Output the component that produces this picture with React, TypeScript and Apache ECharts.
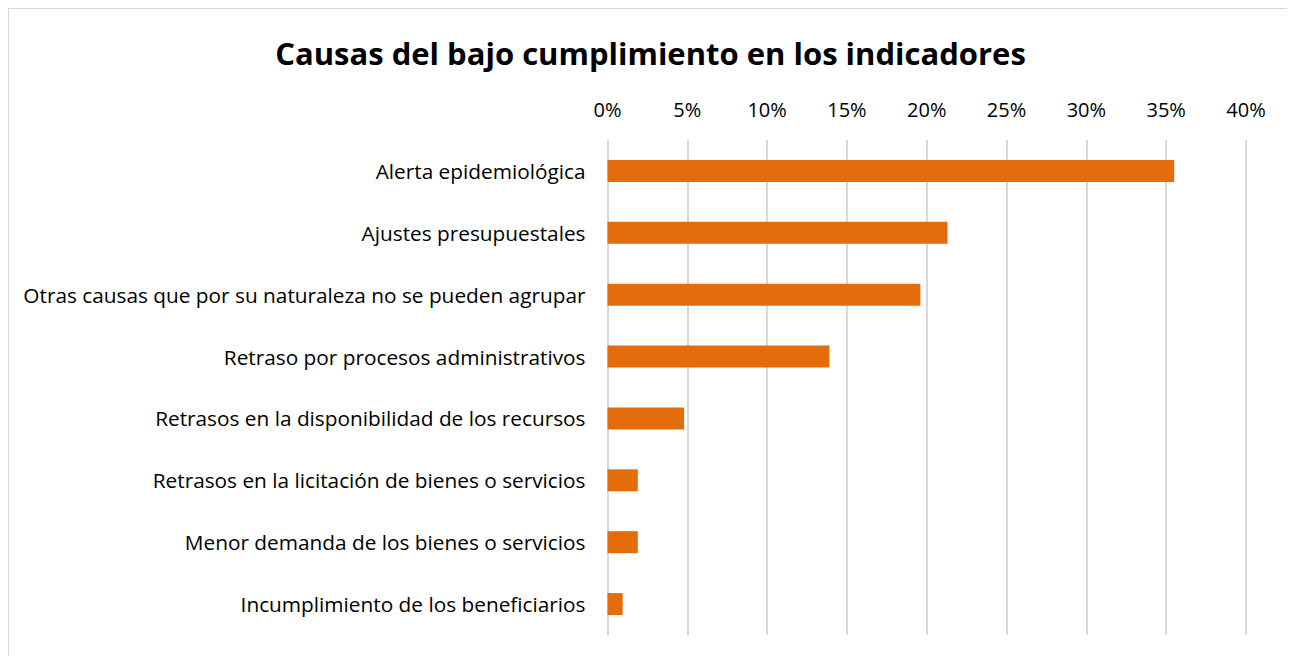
import React, { useEffect, useRef } from "react";
import * as echarts from "echarts";

const categories = [
  "Alerta epidemiológica",
  "Ajustes presupuestales",
  "Otras causas que por su naturaleza no se pueden agrupar",
  "Retraso por procesos administrativos",
  "Retrasos en la disponibilidad de los recursos",
  "Retrasos en la licitación de bienes o servicios",
  "Menor demanda de los bienes o servicios",
  "Incumplimiento de los beneficiarios",
];
const values = [0.355, 0.213, 0.196, 0.139, 0.048, 0.019, 0.019, 0.0095];
const title = "Causas del bajo cumplimiento en los indicadores";

export default function App() {
  const ref = useRef<HTMLDivElement>(null);
  useEffect(() => {
    if (!ref.current) return;
    const chart = echarts.init(ref.current, null, { renderer: "svg" });
    const font = "'Open Sans', sans-serif";
    chart.setOption({
      animation: false,
      title: {
        text: title,
        left: 636.5,
        textAlign: "center",
        top: 23,
        textStyle: { fontFamily: font, fontSize: 31, fontWeight: "bold", color: "#000" },
      },
      grid: { left: 598.5, right: 49, top: 131, height: 495, containLabel: false },
      xAxis: {
        type: "value",
        position: "top",
        min: 0,
        max: 0.4,
        interval: 0.05,
        axisLine: { show: false },
        axisTick: { show: false },
        axisLabel: {
          margin: 21,
          fontFamily: font,
          fontSize: 20,
          color: "#000",
          formatter: (v: number) => Math.round(v * 100) + "%",
        },
        splitLine: { show: true, lineStyle: { color: "#d9d9d9", width: 2 } },
      },
      yAxis: {
        type: "category",
        data: categories,
        inverse: true,
        axisLine: { show: false },
        axisTick: { show: false },
        axisLabel: { margin: 22, fontFamily: font, fontSize: 20.8, color: "#000" },
      },
      series: [
        {
          type: "bar",
          data: values,
          barWidth: 22,
          itemStyle: { color: "#E46C0A" },
        },
      ],
    });
    return () => chart.dispose();
  }, []);
  return (
    <div
      style={{
        width: 1287,
        height: 648,
        borderTop: "1px solid #d9d9d9",
        borderLeft: "1px solid #d9d9d9",
        boxSizing: "border-box",
        position: "relative",
      }}
    >
      <div ref={ref} style={{ width: 1286, height: 647 }} />
    </div>
  );
}
